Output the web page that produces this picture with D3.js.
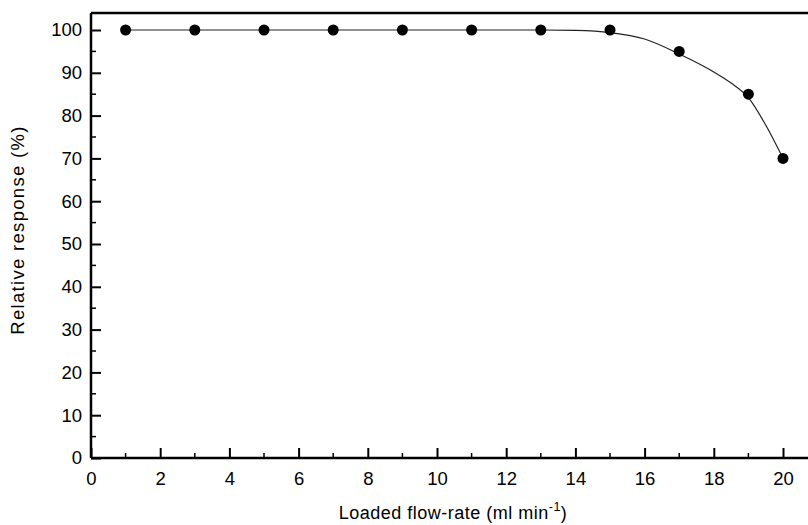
<!DOCTYPE html>
<html>
<head>
<meta charset="utf-8">
<script src="https://cdn.jsdelivr.net/npm/d3@7"></script>
<style>
  body { margin: 0; background: #fff; }
  svg { display: block; font-family: Arial, "Liberation Sans", sans-serif; }
</style>
</head>
<body>
<svg id="chart" width="808" height="525"></svg>
<script>
// measured points
const flowRate = [1, 3, 5, 7, 9, 11, 13, 15, 17, 19, 20]
const response = [100, 100, 100, 100, 100, 100, 100, 100, 95, 85, 70]

// fitted curve
const fitX = [1, 13, 14, 15, 16, 17, 18, 18.5, 19, 19.5, 20]
const fitY = [100, 100, 99.9, 99.4, 97.9, 94.4, 90.2, 87.6, 84.2, 77.8, 70]

const xTicks = [0, 2, 4, 6, 8, 10, 12, 14, 16, 18, 20]
const yTicks = [0, 10, 20, 30, 40, 50, 60, 70, 80, 90, 100]

const margins = { top: 13, bottom: 67, right: 0, left: 91 }

const svg = d3.select("#chart")
const width = 808 - margins.left - margins.right
const height = 525 - margins.top - margins.bottom

// 0..20 spans 692px, the frame runs on past the window edge
const x = d3.scaleLinear().domain([0, 20]).range([0, 692])
const y = d3.scaleLinear().domain([0, 100]).range([445, 17])

const g = svg.append("g")
    .attr("transform", "translate(" + margins.left + "," + margins.top + ")")

// minor ticks
const xMinor = d3.range(1, 21, 2)
const yMinor = d3.range(5, 100, 10)

g.selectAll(".xminor").data(xMinor).enter().append("line")
    .attr("x1", d => x(d)).attr("x2", d => x(d))
    .attr("y1", y(0)).attr("y2", y(0) - 5)
    .attr("stroke", "#000").attr("stroke-width", 1.5)

g.selectAll(".yminor").data(yMinor).enter().append("line")
    .attr("y1", d => y(d)).attr("y2", d => y(d))
    .attr("x1", 0).attr("x2", 5)
    .attr("stroke", "#000").attr("stroke-width", 1.5)

const xAxis = d3.axisBottom(x).tickValues(xTicks).tickSizeInner(-10).tickSizeOuter(0).tickPadding(14)
const yAxis = d3.axisLeft(y).tickValues(yTicks).tickSizeInner(-10).tickSizeOuter(0).tickPadding(9)

const gx = g.append("g")
    .attr("transform", "translate(0," + y(0) + ")")
    .call(xAxis)
gx.select(".domain").attr("d", "M0,0H" + width)

const gy = g.append("g").call(yAxis)
gy.select(".domain").attr("d", "M0," + y(0) + "V0")

svg.selectAll(".tick text").attr("font-size", "18.5px").attr("fill", "#000")
    .attr("font-family", "Arial, 'Liberation Sans', sans-serif")
svg.selectAll(".tick line").attr("stroke-width", 2)
svg.selectAll(".domain").attr("stroke-width", 2.5)

// top frame
g.append("line")
    .attr("x1", 0).attr("x2", width)
    .attr("y1", 0).attr("y2", 0)
    .attr("stroke", "#000").attr("stroke-width", 2.5)

// fitted line
const line = d3.line()
    .x((d, i) => x(fitX[i]))
    .y(d => y(d))
    .curve(d3.curveMonotoneX)

g.append("path")
    .attr("d", line(fitY))
    .attr("fill", "none")
    .attr("stroke", "#222")
    .attr("stroke-width", 1.2)

g.selectAll(".pt").data(response).enter().append("circle")
    .attr("cx", (d, i) => x(flowRate[i]))
    .attr("cy", d => y(d))
    .attr("r", 5.5)
    .attr("fill", "#000")

// axis titles
const xTitle = svg.append("text")
    .attr("x", 453)
    .attr("y", 519)
    .attr("text-anchor", "middle")
    .attr("font-size", "18px")
    .attr("letter-spacing", "0.5px")
xTitle.append("tspan").text("Loaded flow-rate (ml min")
xTitle.append("tspan").attr("dy", -8).attr("font-size", "12.5px").text("-1")
xTitle.append("tspan").attr("dy", 8).text(")")

svg.append("text")
    .attr("transform", "translate(24,230) rotate(-90)")
    .attr("text-anchor", "middle")
    .attr("font-size", "18.5px")
    .attr("letter-spacing", "1.3px")
    .text("Relative response (%)")
</script>
</body>
</html>
